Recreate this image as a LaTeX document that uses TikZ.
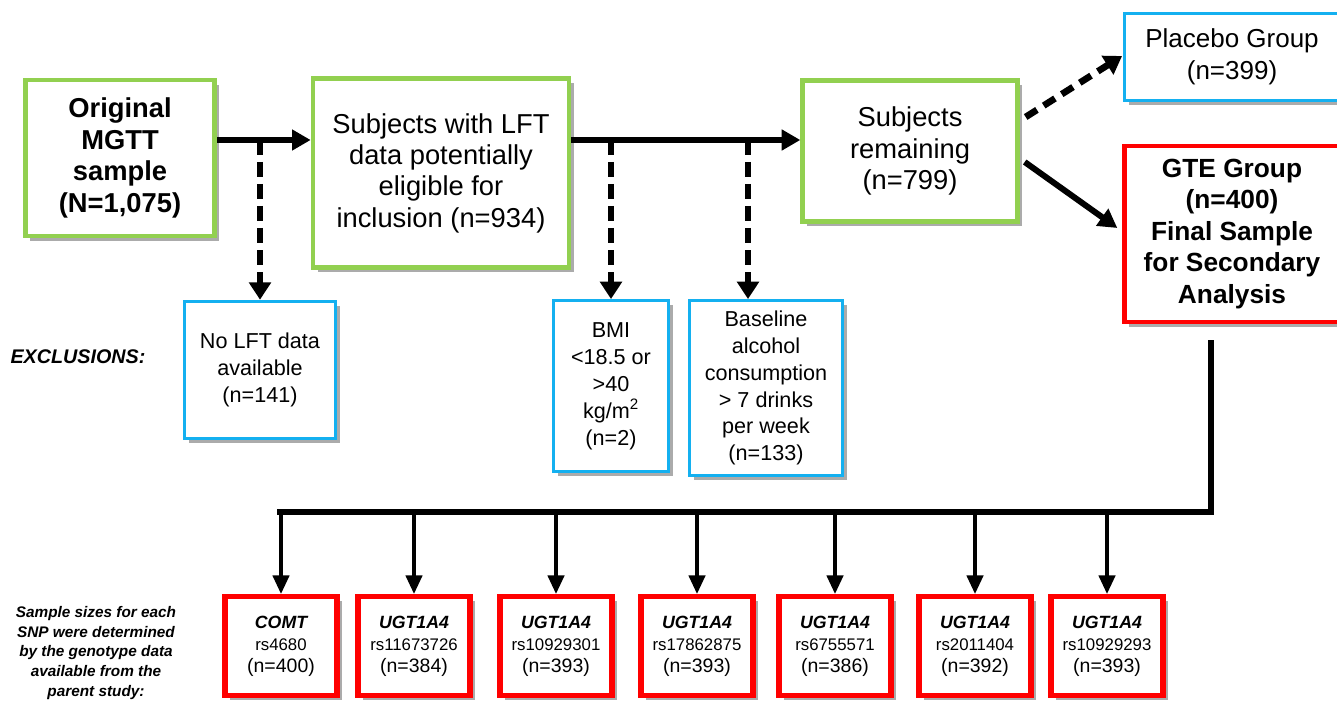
\documentclass[tikz,border=0pt]{standalone}
\usepackage{fontspec}
\setmainfont{Liberation Sans}
\usetikzlibrary{positioning,arrows.meta,shadows}

\definecolor{stagegreen}{RGB}{146,208,80}
\definecolor{exclblue}{RGB}{20,176,240}
\definecolor{snpred}{RGB}{255,0,0}

\begin{document}
\begin{tikzpicture}[x=0.75pt,y=-0.75pt,
    shade box/.style={fill=white,drop shadow={shadow xshift=3.5pt,shadow yshift=-3.5pt,fill=black!60,opacity=.55}},
    stage/.style={shade box,draw=stagegreen,line width=3.5pt,align=center,inner sep=0pt,font={\fontsize{20.5}{23.5}\selectfont}},
    excl/.style={shade box,draw=exclblue,line width=2.4pt,align=center,inner sep=0pt,font={\fontsize{16.2}{20.2}\selectfont}},
    group/.style={shade box,line width=3.5pt,align=center,inner sep=0pt,minimum width=161pt},
    snp/.style={shade box,draw=snpred,line width=3.8pt,align=center,inner sep=0pt,minimum width=84pt,minimum height=74pt,font={\fontsize{14.6}{16.5}\selectfont}},
    flow/.style={line width=4.5pt,-{Triangle[length=14pt,width=15pt]}},
    drop/.style={line width=5pt,dash pattern=on 11pt off 5.5pt,-{Triangle[length=13pt,width=16pt]}},
    branch/.style={line width=3pt,-{Triangle[length=14pt,width=12pt]}}]
\useasboundingbox (0,0) rectangle (1337,702);

% main stages
\node[stage,minimum width=142pt,minimum height=117pt,font={\bfseries\fontsize{20.5}{23.8}\selectfont}] (orig) at (120,158) {Original\\MGTT\\sample\\(N=1,075)};
\node[stage,minimum width=192pt,minimum height=142pt] (elig) at (441,173) {Subjects with LFT\\data potentially\\eligible for\\inclusion (n=934)};
\node[stage,minimum width=161pt,minimum height=106pt] (remain) at (910,151) {Subjects\\remaining\\(n=799)};

% groups
\node[group,draw=exclblue,line width=2.4pt,minimum height=65pt,font={\fontsize{19.5}{24}\selectfont}] (placebo) at (1232,57) {Placebo Group\\(n=399)};
\node[group,draw=snpred,minimum height=132pt,font={\bfseries\fontsize{19.7}{23.6}\selectfont}] (gte) at (1232,234) {GTE Group\\(n=400)\\Final Sample\\for Secondary\\Analysis};

% exclusions
\node[font={\bfseries\itshape\fontsize{14.8}{18}\selectfont}] (exlabel) at (78,357) {EXCLUSIONS:};
\node[excl,minimum width=113pt,minimum height=103pt] (nolft) at (260,370) {No LFT data\\available\\(n=141)};
\node[excl,minimum width=86pt,minimum height=128pt] (bmi) at (611,386) {BMI\\<18.5 or\\>40\\kg/m\textsuperscript{2}\\(n=2)};
\node[excl,minimum width=115pt,minimum height=131pt] (base) at (766,388) {Baseline\\alcohol\\consumption\\> 7 drinks\\per week\\(n=133)};

% snp note
\node[align=center,font={\bfseries\itshape\fontsize{11.5}{14.7}\selectfont}] (note) at (96,653) {Sample sizes for each\\SNP were determined\\by the genotype data\\available from the\\parent study:};

% snp boxes
\node[snp] (snp1) at (281,646) {{\bfseries\itshape\fontsize{13.3}{16.5}\selectfont COMT}\\{\fontsize{12.6}{16.5}\selectfont rs4680}\\(n=400)};
\node[snp] (snp2) at (414,646) {{\bfseries\itshape\fontsize{13.3}{16.5}\selectfont UGT1A4}\\{\fontsize{12.6}{16.5}\selectfont rs11673726}\\(n=384)};
\node[snp] (snp3) at (556,646) {{\bfseries\itshape\fontsize{13.3}{16.5}\selectfont UGT1A4}\\{\fontsize{12.6}{16.5}\selectfont rs10929301}\\(n=393)};
\node[snp] (snp4) at (697,646) {{\bfseries\itshape\fontsize{13.3}{16.5}\selectfont UGT1A4}\\{\fontsize{12.6}{16.5}\selectfont rs17862875}\\(n=393)};
\node[snp] (snp5) at (835,646) {{\bfseries\itshape\fontsize{13.3}{16.5}\selectfont UGT1A4}\\{\fontsize{12.6}{16.5}\selectfont rs6755571}\\(n=386)};
\node[snp] (snp6) at (975,646) {{\bfseries\itshape\fontsize{13.3}{16.5}\selectfont UGT1A4}\\{\fontsize{12.6}{16.5}\selectfont rs2011404}\\(n=392)};
\node[snp] (snp7) at (1107,646) {{\bfseries\itshape\fontsize{13.3}{16.5}\selectfont UGT1A4}\\{\fontsize{12.6}{16.5}\selectfont rs10929293}\\(n=393)};

% junctions
\coordinate (j1) at (260,140);
\coordinate (j2) at (611,140);
\coordinate (j3) at (748,140);
\coordinate (split) at (1211,340);
\coordinate (busl) at (277,512);

% connectors
\draw[flow] (orig.east |- j1) -- (elig.west |- j1);
\draw[flow] (elig.east |- j2) -- (remain.west |- j2);
\draw[drop] (j1) -- (nolft.north);
\draw[drop] (j2) -- (bmi.north);
\draw[drop] (j3) -- (j3 |- base.north);
\draw[drop,dash pattern=on 10pt off 6pt] ([shift={(6,-34)}]remain.east) -- ([shift={(-1,-1)}]placebo.west);
\draw[flow] ([shift={(5,11)}]remain.east) -- ([shift={(-5,-6)}]gte.west);
\draw[line width=4.5pt] (split) |- (busl);
\draw[branch] (snp1.north |- busl) -- (snp1.north);
\draw[branch] (snp2.north |- busl) -- (snp2.north);
\draw[branch] (snp3.north |- busl) -- (snp3.north);
\draw[branch] (snp4.north |- busl) -- (snp4.north);
\draw[branch] (snp5.north |- busl) -- (snp5.north);
\draw[branch] (snp6.north |- busl) -- (snp6.north);
\draw[branch] (snp7.north |- busl) -- (snp7.north);
\end{tikzpicture}
\end{document}
